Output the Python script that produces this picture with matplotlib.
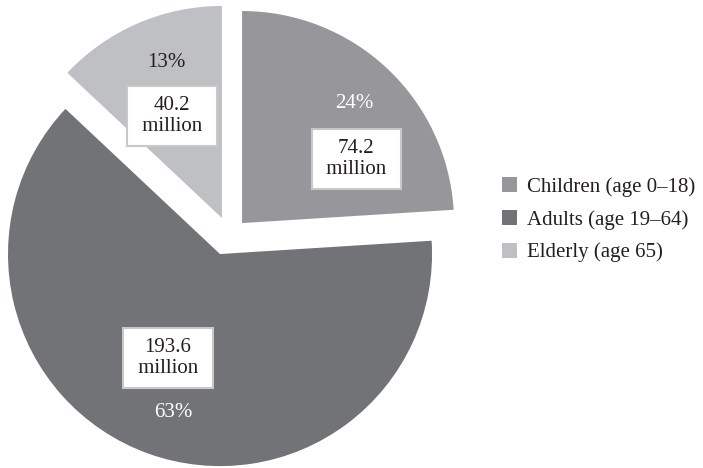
import matplotlib.pyplot as plt

# data
groups = ['Children (age 0\u201318)', 'Adults (age 19\u201364)', 'Elderly (age 65)']
millions = [74.2, 193.6, 40.2]
percents = [24, 63, 13]
colors = ['#97979b', '#727377', '#bfc0c4']

# layout: how far each wedge is pulled off the centre, and where its labels sit
# (relative to the wedge's own centre, in radius units)
shift = [(0.104, 0.146), (0.0, 0.0), (0.009, 0.170)]
pct_pos = [(0.528, 0.566), (-0.222, -0.745), (-0.264, 0.731)]
box_pos = [(0.538, 0.302), (-0.245, -0.49), (-0.236, 0.481)]

plt.rcParams['font.family'] = ['Liberation Serif', 'DejaVu Serif']

fig = plt.figure(figsize=(7.03, 4.68), dpi=100)
ax = fig.add_axes([0, 0, 1, 1])

wedges, _ = ax.pie(percents, colors=colors, startangle=90, counterclock=False,
                   radius=1.0, wedgeprops=dict(linewidth=0))

for i, w in enumerate(wedges):
    dx, dy = shift[i]
    w.set_center((dx, dy))
    px, py = pct_pos[i]
    pc = '#231f20' if i == 2 else 'white'
    ax.text(dx + px, dy + py, f'{percents[i]}%', ha='center', va='center',
            fontsize=15, color=pc)
    bx, by = box_pos[i]
    ax.text(dx + bx, dy + by, f'{millions[i]}\n million ', ha='center', va='center',
            fontsize=15, color='#231f20', linespacing=1.2, multialignment='center',
            bbox=dict(boxstyle='square,pad=0.45', facecolor='white',
                      edgecolor='#c8c8c8', linewidth=1.5))

ax.set_aspect('auto')
ax.set_xlim(-1.0377, 2.278)
ax.set_ylim(-1.009, 1.198)
ax.axis('off')

ax.legend(wedges, groups, loc='center left', bbox_to_anchor=(0.688, 0.53),
          frameon=False, fontsize=15, handlelength=0.72, handleheight=0.72,
          handletextpad=0.48, labelspacing=0.62, labelcolor='#231f20')

fig.savefig('out.png', dpi=100)
